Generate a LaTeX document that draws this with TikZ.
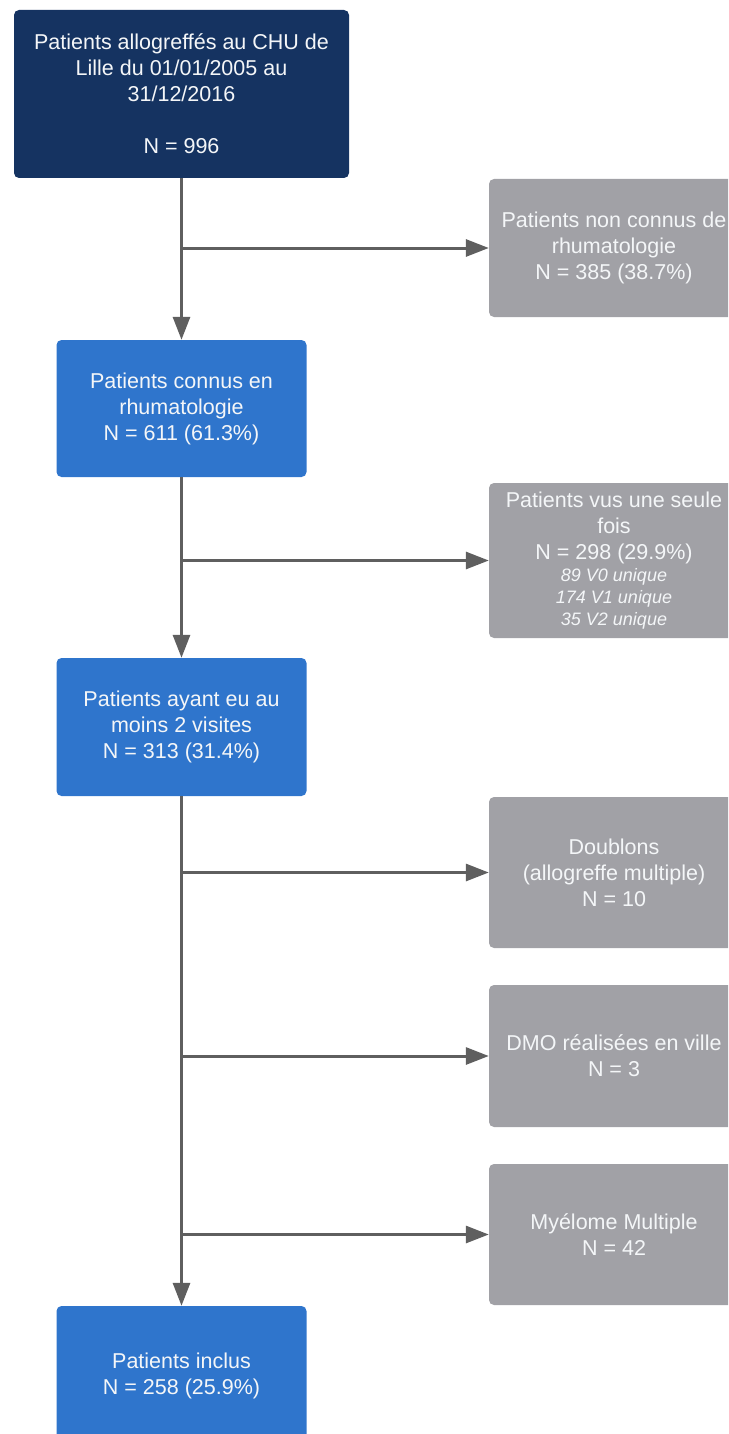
\documentclass[tikz,border=0pt]{standalone}
\usepackage{fontspec}
\setmainfont{Liberation Sans}
\usetikzlibrary{arrows.meta}
\definecolor{cNavy}{RGB}{21,51,97}
\definecolor{cBlue}{RGB}{47,117,204}
\definecolor{cGray}{RGB}{161,161,166}
\definecolor{cLine}{RGB}{95,95,95}
\definecolor{cText}{RGB}{244,246,248}
\begin{document}
\begin{tikzpicture}[x=1pt,y=-1pt,
  box/.style={rectangle, rounded corners=5pt, inner sep=0pt, align=center, text=cText,
    font=\fontsize{21.5}{26}\selectfont},
  topbox/.style={box, fill=cNavy, minimum width=335pt, minimum height=168pt},
  bluebox/.style={box, fill=cBlue, minimum width=250pt},
  greybox/.style={box, fill=cGray, minimum width=250pt},
  small/.style={},
  arr/.style={draw=cLine, line width=3pt, -{Triangle[length=23pt,width=17pt]}},
]
\useasboundingbox (0,0) rectangle (728,1434);
\clip (0,0) rectangle (728,1434);

\node[topbox] (top) at (181.5,94) {Patients allogreffés au CHU de\\ Lille du 01/01/2005 au\\ 31/12/2016\\[26pt] N = 996};

\node[greybox, minimum height=138pt] (g1) at (614,248) {Patients non connus de\\ rhumatologie\\ N = 385 (38.7\%)};

\node[bluebox, minimum height=137pt] (b1) at (181.5,408.5) {Patients connus en\\ rhumatologie\\ N = 611 (61.3\%)};

\node[greybox, minimum height=155pt] (g2) at (614,560.5) {Patients vus une seule\\ fois\\ N = 298 (29.9\%)\\[-4pt]
  {\itshape\fontsize{18}{22}\selectfont 89 V0 unique}\\[-4pt]
  {\itshape\fontsize{18}{22}\selectfont 174 V1 unique}\\[-4pt]
  {\itshape\fontsize{18}{22}\selectfont 35 V2 unique}};

\node[bluebox, minimum height=138pt] (b2) at (181.5,727) {Patients ayant eu au\\ moins 2 visites\\ N = 313 (31.4\%)};

\node[greybox, minimum height=151pt] (g3) at (614,872.5) {Doublons\\ (allogreffe multiple)\\ N = 10};

\node[greybox, minimum height=142pt] (g4) at (614,1056) {DMO réalisées en ville\\ N = 3};

\node[greybox, minimum height=141pt] (g5) at (614,1234.5) {Myélome Multiple\\ N = 42};

\node[bluebox, minimum height=139pt] (b3) at (181.5,1375.5) {Patients inclus\\ N = 258 (25.9\%)};

\draw[arr] (top.south) -- (b1.north);
\draw[arr] (top.south |- g1.west) -- (g1.west);
\draw[arr] (b1.south) -- (b2.north);
\draw[arr] (b1.south |- g2.west) -- (g2.west);
\draw[arr] (b2.south) -- (b3.north);
\draw[arr] (b2.south |- g3.west) -- (g3.west);
\draw[arr] (b2.south |- g4.west) -- (g4.west);
\draw[arr] (b2.south |- g5.west) -- (g5.west);
\end{tikzpicture}
\end{document}
